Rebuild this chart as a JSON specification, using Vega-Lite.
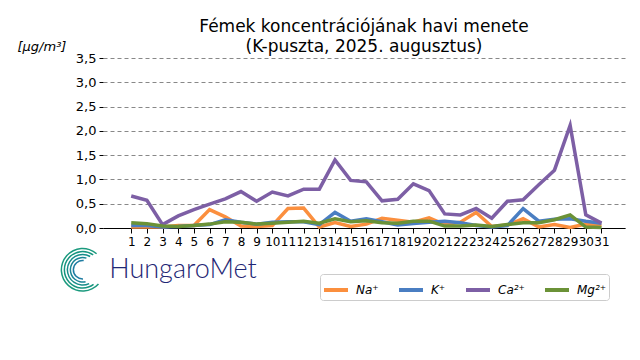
{
  "$schema": "https://vega.github.io/schema/vega-lite/v6.json",
  "width": 522,
  "height": 170,
  "autosize": {"type": "none"},
  "padding": {"left": 103, "top": 58, "right": 15, "bottom": 132},
  "background": "white",
  "config": {
    "font": "DejaVu Sans",
    "view": {"stroke": null}
  },
  "title": {
    "text": ["Fémek koncentrációjának havi menete", "(K-puszta, 2025. augusztus)"],
    "fontSize": 17,
    "fontWeight": "normal",
    "font": "DejaVu Sans",
    "color": "#000",
    "anchor": "middle",
    "offset": -16,
    "lineHeight": 20
  },
  "layer": [
    {
      "data": {
        "values": [
          {"day": 1, "Na": 0.02, "K": 0.05, "Ca": 0.66, "Mg": 0.11},
          {"day": 2, "Na": 0.02, "K": 0.05, "Ca": 0.57, "Mg": 0.09},
          {"day": 3, "Na": 0.02, "K": 0.02, "Ca": 0.07, "Mg": 0.04},
          {"day": 4, "Na": 0.05, "K": 0.03, "Ca": 0.25, "Mg": 0.03},
          {"day": 5, "Na": 0.05, "K": 0.05, "Ca": 0.38, "Mg": 0.05},
          {"day": 6, "Na": 0.38, "K": 0.07, "Ca": 0.49, "Mg": 0.08},
          {"day": 7, "Na": 0.23, "K": 0.17, "Ca": 0.6, "Mg": 0.13},
          {"day": 8, "Na": 0.04, "K": 0.12, "Ca": 0.75, "Mg": 0.12},
          {"day": 9, "Na": 0.03, "K": 0.08, "Ca": 0.55, "Mg": 0.08},
          {"day": 10, "Na": 0.05, "K": 0.12, "Ca": 0.74, "Mg": 0.1},
          {"day": 11, "Na": 0.4, "K": 0.13, "Ca": 0.66, "Mg": 0.12},
          {"day": 12, "Na": 0.41, "K": 0.13, "Ca": 0.8, "Mg": 0.14},
          {"day": 13, "Na": 0.02, "K": 0.07, "Ca": 0.8, "Mg": 0.1},
          {"day": 14, "Na": 0.11, "K": 0.32, "Ca": 1.4, "Mg": 0.19},
          {"day": 15, "Na": 0.03, "K": 0.14, "Ca": 0.98, "Mg": 0.13},
          {"day": 16, "Na": 0.08, "K": 0.19, "Ca": 0.95, "Mg": 0.15},
          {"day": 17, "Na": 0.2, "K": 0.13, "Ca": 0.56, "Mg": 0.11},
          {"day": 18, "Na": 0.16, "K": 0.06, "Ca": 0.59, "Mg": 0.1},
          {"day": 19, "Na": 0.12, "K": 0.09, "Ca": 0.91, "Mg": 0.14},
          {"day": 20, "Na": 0.21, "K": 0.12, "Ca": 0.77, "Mg": 0.14},
          {"day": 21, "Na": 0.07, "K": 0.14, "Ca": 0.29, "Mg": 0.04},
          {"day": 22, "Na": 0.12, "K": 0.11, "Ca": 0.27, "Mg": 0.04},
          {"day": 23, "Na": 0.32, "K": 0.05, "Ca": 0.4, "Mg": 0.06},
          {"day": 24, "Na": 0.03, "K": 0.02, "Ca": 0.2, "Mg": 0.03},
          {"day": 25, "Na": 0.06, "K": 0.05, "Ca": 0.55, "Mg": 0.07},
          {"day": 26, "Na": 0.19, "K": 0.4, "Ca": 0.58, "Mg": 0.11},
          {"day": 27, "Na": 0.02, "K": 0.14, "Ca": 0.89, "Mg": 0.11},
          {"day": 28, "Na": 0.07, "K": 0.18, "Ca": 1.19, "Mg": 0.17},
          {"day": 29, "Na": 0.01, "K": 0.19, "Ca": 2.11, "Mg": 0.27},
          {"day": 30, "Na": 0.08, "K": 0.14, "Ca": 0.27, "Mg": 0.02},
          {"day": 31, "Na": 0.05, "K": 0.1, "Ca": 0.1, "Mg": 0.01}
        ]
      },
      "transform": [{"fold": ["Na", "K", "Ca", "Mg"], "as": ["ion", "v"]}],
      "mark": {"type": "line", "strokeWidth": 3.5, "strokeJoin": "miter", "clip": false},
      "encoding": {
        "x": {
          "field": "day",
          "type": "quantitative",
          "scale": {"domain": [-0.8, 32.5], "nice": false, "zero": false},
          "axis": {
            "values": [1,2,3,4,5,6,7,8,9,10,11,12,13,14,15,16,17,18,19,20,21,22,23,24,25,26,27,28,29,30,31],
            "tickCount": 40,
            "title": null,
            "grid": false,
            "labelOverlap": false,
            "labelBound": false,
            "labelFontSize": 12,
            "labelColor": "#000",
            "tickColor": "#000",
            "tickSize": 5,
            "domainColor": "#000",
            "domainWidth": 1,
            "labelPadding": 3,
            "labelFlush": false
          }
        },
        "y": {
          "field": "v",
          "type": "quantitative",
          "scale": {"domain": [0, 3.5], "nice": false},
          "axis": {
            "values": [0, 0.5, 1, 1.5, 2, 2.5, 3, 3.5],
            "tickCount": 10,
            "labelOverlap": false,
            "labelBound": false,
            "labelExpr": "replace(format(datum.value, '.1f'), '.', ',')",
            "title": "[µg/m³]",
            "titleAngle": 0,
            "titleAlign": "left",
            "titleBaseline": "middle",
            "titleX": -86,
            "titleY": -12,
            "titleFontSize": 13,
            "titleFontWeight": "normal",
            "titleFontStyle": "italic",
            "titleColor": "#000",
            "labelFontSize": 13,
            "labelColor": "#000",
            "labelPadding": 3,
            "tickColor": "#000",
            "tickSize": 4,
            "domain": false,
            "grid": true,
            "gridColor": "#888",
            "gridDash": [4, 3],
            "gridWidth": 1
          }
        },
        "color": {
          "field": "ion",
          "type": "nominal",
          "sort": ["Na", "K", "Ca", "Mg"],
          "scale": {"domain": ["Na", "K", "Ca", "Mg"], "range": ["#fb8f3e", "#4a7ec2", "#7d5fa5", "#6b9237"]},
          "legend": {
            "title": null,
            "orient": "none",
            "legendX": 217,
            "legendY": 216,
            "direction": "horizontal",
            "columns": 4,
            "gridAlign": "each",
            "labelExpr": "{'Na':'Na⁺','K':'K⁺','Ca':'Ca²⁺','Mg':'Mg²⁺'}[datum.label]",
            "labelFontStyle": "italic",
            "labelFontSize": 12,
            "labelColor": "#000",
            "labelOffset": 6,
            "symbolType": "stroke",
            "symbolStrokeWidth": 4,
            "symbolSize": 576,
            "columnPadding": 12,
            "padding": 2,
            "strokeColor": "#cccccc",
            "fillColor": "white",
            "cornerRadius": 3
          }
        },
        "order": {"field": "day"}
      }
    },
    {
      "data": {"values": [{"logo": "HungaroMet"}]},
      "mark": {"type": "text", "align": "left", "baseline": "middle", "font": "Lato", "fontWeight": 300, "fontSize": 27, "color": "#1f2775", "clip": false},
      "encoding": {
        "x": {"datum": -0.4},
        "y": {"datum": -0.86},
        "text": {"field": "logo"}
      }
    },
    {
      "data": {"values": [{"logo": "swirl"}]},
      "mark": {"type": "arc", "radius": 22, "radius2": 20.5, "theta": 2.3, "theta2": 7.0, "color": "#1b9a7e", "clip": false},
      "encoding": {"x": {"datum": -2.1}, "y": {"datum": -0.86}}
    },
    {
      "data": {"values": [{"logo": "swirl"}]},
      "mark": {"type": "arc", "radius": 19, "radius2": 17.5, "theta": 2.5, "theta2": 6.9, "color": "#16957f", "clip": false},
      "encoding": {"x": {"datum": -2.1}, "y": {"datum": -0.86}}
    },
    {
      "data": {"values": [{"logo": "swirl"}]},
      "mark": {"type": "arc", "radius": 16, "radius2": 14.5, "theta": 2.7, "theta2": 6.8, "color": "#178d8a", "clip": false},
      "encoding": {"x": {"datum": -2.1}, "y": {"datum": -0.86}}
    },
    {
      "data": {"values": [{"logo": "swirl"}]},
      "mark": {"type": "arc", "radius": 13, "radius2": 11.5, "theta": 2.9, "theta2": 6.6, "color": "#1b8596", "clip": false},
      "encoding": {"x": {"datum": -2.1}, "y": {"datum": -0.86}}
    },
    {
      "data": {"values": [{"logo": "swirl"}]},
      "mark": {"type": "arc", "radius": 10, "radius2": 8.5, "theta": 3.1, "theta2": 6.4, "color": "#1f7ca2", "clip": false},
      "encoding": {"x": {"datum": -2.1}, "y": {"datum": -0.86}}
    }
  ]
}
